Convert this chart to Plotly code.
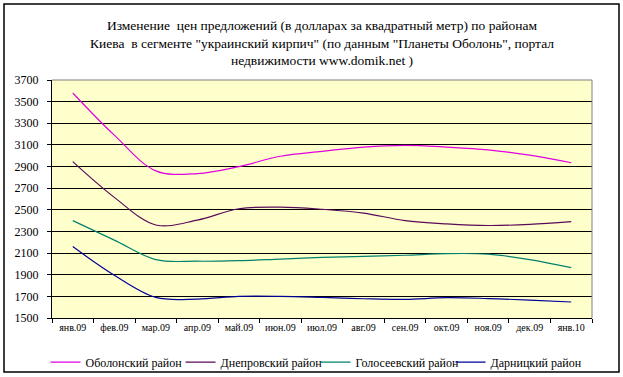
import plotly.graph_objects as go

months = ["янв.09", "фев.09", "мар.09", "апр.09", "май.09", "июн.09", "июл.09",
          "авг.09", "сен.09", "окт.09", "ноя.09", "дек.09", "янв.10"]

obolon = [3580, 3190, 2860, 2835, 2900, 2995, 3040, 3080, 3095, 3080, 3055, 3005, 2935]
dnepr = [2945, 2615, 2360, 2405, 2510, 2525, 2505, 2470, 2400, 2370, 2355, 2365, 2390]
golos = [2400, 2220, 2040, 2025, 2030, 2045, 2060, 2070, 2080, 2095, 2090, 2040, 1965]
darn = [2160, 1895, 1690, 1675, 1700, 1700, 1690, 1678, 1672, 1688, 1680, 1665, 1648]

series = [
    ("Оболонский район", obolon, "#E000E0"),
    ("Днепровский район", dnepr, "#5A0A5A"),
    ("Голосеевский район", golos, "#00806E"),
    ("Дарницкий район", darn, "#000099"),
]

fig = go.Figure()
for name, vals, col in series:
    fig.add_trace(go.Scatter(x=months, y=vals, name=name, mode="lines",
                             line=dict(color=col, width=1.2, shape="spline", smoothing=1.0)))

serif = "Liberation Serif"

fig.update_layout(
    width=623, height=377,
    margin=dict(l=52, r=31, t=80, b=59, autoexpand=False),
    paper_bgcolor="white",
    plot_bgcolor="#FFFFCC",
    font=dict(family=serif, color="black", size=11),
    title=dict(
        text="Изменение  цен предложений (в долларах за квадратный метр) по районам<br>"
             "Киева  в сегменте \"украинский кирпич\" (по данным \"Планеты Оболонь\", портал<br>"
             "недвижимости www.domik.net )",
        x=0.5, xref="paper", xanchor="center", y=0.92, yanchor="middle",
        font=dict(family=serif, size=13.5, color="black"),
    ),
    showlegend=True,
    legend=dict(orientation="h", x=0.488, xanchor="center", y=-0.185, yanchor="middle",
                font=dict(family=serif, size=12), bgcolor="rgba(0,0,0,0)",
                itemwidth=30, entrywidth=90, entrywidthmode="pixels",
                tracegroupgap=0),
    xaxis=dict(type="category", range=[-0.5, 12.5], showgrid=False, automargin=False,
               showline=True, linecolor="black", linewidth=1,
               ticks="outside", tickson="boundaries", ticklen=4, tickcolor="black",
               tickangle=0,
               tickfont=dict(family=serif, size=10), fixedrange=True),
    yaxis=dict(range=[1500, 3700], dtick=200, tick0=1500, showgrid=True, automargin=False,
               gridcolor="black", gridwidth=1, zeroline=False,
               showline=True, linecolor="black", linewidth=1,
               ticks="outside", ticklen=4, tickcolor="black",
               ticklabelstandoff=6,
               tickfont=dict(family=serif, size=12), fixedrange=True),
)

fig.add_shape(type="line", xref="paper", yref="paper", x0=0, x1=1, y0=1, y1=1,
              line=dict(color="#808080", width=1), layer="above")
fig.add_shape(type="line", xref="paper", yref="paper", x0=1, x1=1, y0=0, y1=1,
              line=dict(color="#808080", width=1), layer="above")
fig.add_shape(type="rect", xref="paper", yref="paper",
              x0=(4 - 52) / 540, x1=(619 - 52) / 540,
              y0=(318 - 372) / 238, y1=(318 - 4) / 238,
              line=dict(color="black", width=1.5), fillcolor="rgba(0,0,0,0)", layer="above")

fig.write_html("out.html", config={"displayModeBar": False},
               post_script="document.body.style.margin='0';document.body.style.overflow='hidden';")
